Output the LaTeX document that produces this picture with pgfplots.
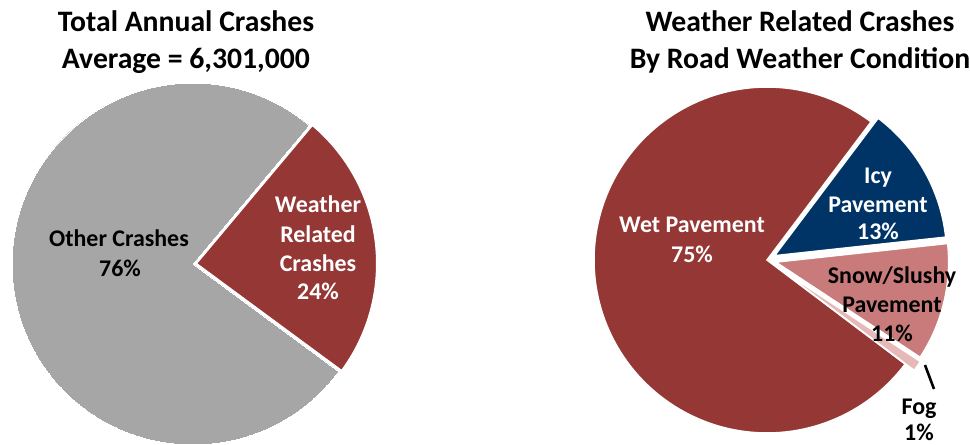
\documentclass[border=0pt]{standalone}
\usepackage{pgfplots}
\pgfplotsset{compat=1.18}
\usepackage{fontspec}
\setmainfont{Carlito}
\definecolor{cgrey}{HTML}{A6A6A6}
\definecolor{cred}{HTML}{953735}
\definecolor{cnavy}{HTML}{003366}
\definecolor{cpink}{HTML}{C97A7A}
\definecolor{clight}{HTML}{E6B9B8}
% slice: cx, cy, radius, start angle, percent from, percent to, colour, border width
\newcommand{\slice}[8]{%
  \addplot[fill=#7, draw=white, line width=#8, domain=#5:#6, samples=140, variable=\p]
    ({#1+#3*cos(#4-3.6*\p)},{#2+#3*sin(#4-3.6*\p)}) -- (axis cs:#1,#2) -- cycle;}
\newcommand{\lbl}[4]{\node[anchor=base, text=#4, font=\fontsize{24}{29}\selectfont\bfseries, inner sep=0pt] at (axis cs:#1,#2) {#3};}
\newcommand{\ttl}[3]{\node[anchor=base, font=\fontsize{29.8}{36}\selectfont\bfseries, inner sep=0pt] at (axis cs:#1,#2) {#3};}
\begin{document}
\begin{tikzpicture}
\begin{axis}[
  x=1bp, y=1bp, xmin=0, xmax=970, ymin=0, ymax=445,
  hide axis, clip=false, anchor=south west, at={(0,0)}]
% ---- left pie: Weather Related 24, Other 76 ----
\slice{193}{181}{181}{50}{24}{100}{cgrey}{0pt}
\slice{196}{181.4}{181}{50}{0}{24}{cred}{2pt}
% ---- right pie: Icy 13, Snow/Slushy 11, Fog 1, Wet 75 ----
\slice{767}{185}{173}{53}{25}{100}{cred}{1.5pt}
\slice{774}{189}{173}{53}{0}{13}{cnavy}{2pt}
\slice{775.7}{182.9}{173}{53}{13}{24}{cpink}{1.6pt}
\slice{776}{178.7}{173}{53}{24}{25}{clight}{1.5pt}
% titles
\ttl{186}{413}{Total Annual Crashes}
\ttl{186}{377}{Average = 6,301,000}
\ttl{800}{413}{Weather Related Crashes}
\ttl{800}{377}{By Road Weather Condition}
% labels left
\lbl{119}{199}{Other Crashes}{black}
\lbl{120}{169}{76\%}{black}
\lbl{318}{233}{Weather}{white}
\lbl{318}{203}{Related}{white}
\lbl{318}{174}{Crashes}{white}
\lbl{318}{146}{24\%}{white}
% labels right
\lbl{692}{213}{Wet Pavement}{white}
\lbl{692}{183}{75\%}{white}
\lbl{878}{262}{Icy}{white}
\lbl{878}{233}{Pavement}{white}
\lbl{878}{206}{13\%}{white}
\lbl{892}{162}{Snow/Slushy}{black}
\lbl{892}{133}{Pavement}{black}
\lbl{892}{104}{11\%}{black}
\draw[line width=2.6pt] (axis cs:925,80) -- (axis cs:934,56);
\lbl{919}{31}{Fog}{black}
\lbl{919}{5}{1\%}{black}
\end{axis}
\pgfresetboundingbox
\useasboundingbox (0,0) rectangle (970bp,445bp);
\end{tikzpicture}
\end{document}
